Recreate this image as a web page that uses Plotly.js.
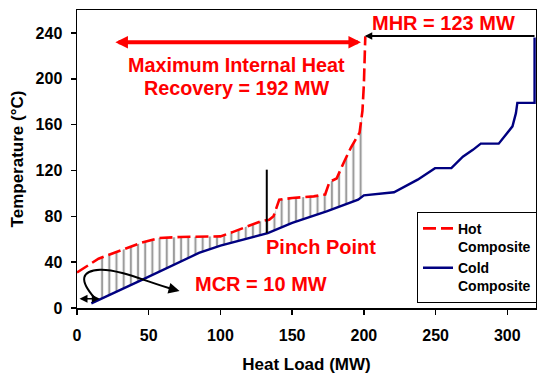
<!DOCTYPE html>
<html><head><meta charset="utf-8">
<script src="https://cdn.plot.ly/plotly-3.0.1.min.js"></script>
<style>html,body{margin:0;padding:0;background:#fff}#chart{width:537px;height:374px}</style>
</head><body><div id="chart"></div>
<script>
// Hot composite curve (heat load MW, temperature °C)
const hotLoad = [0, 15, 45, 57, 72, 100, 108, 120, 128, 134, 137, 141, 150, 165, 173, 176, 181, 186, 191, 197, 199, 200, 201];
const hotTemp = [31, 43, 57, 61, 62, 62.5, 66, 72, 75.6, 77, 80, 94.5, 96, 97.4, 99, 110, 113, 127, 140, 153, 172, 195, 237];
// Cold composite curve
const coldLoad = [10, 15, 46, 85, 100, 133, 150, 174, 196, 200, 221, 237.5, 249.6, 261, 269, 276, 281.5, 294, 299, 303.6, 306, 307, 319, 319];
const coldTemp = [4, 7, 25, 48, 54.5, 65.4, 74.2, 84.3, 94.5, 98.3, 101, 112, 122, 122, 132, 138, 143.4, 143.4, 151, 158.5, 170, 179, 179, 236];
// Recovery (overlap) region limits
const recoveryStart = 15;
const recoveryEnd = 200;
// Axis ticks
const xTicks = [0, 50, 100, 150, 200, 250, 300];
const yTicks = [0, 40, 80, 120, 160, 200, 240];
// Pinch point
const pinchLoad = 132.3;
const pinchTop = 120.7;

const FONT = 'Liberation Sans, Arial, Helvetica, sans-serif';

// Overlap region polygon built from the two composites
const polyX = [], polyY = [];
hotLoad.forEach((x, i) => { if (x >= recoveryStart && x <= recoveryEnd) { polyX.push(x); polyY.push(hotTemp[i]); } });
for (let i = coldLoad.length - 1; i >= 0; i--) {
  const x = coldLoad[i];
  if (x >= recoveryStart && x <= recoveryEnd) { polyX.push(x); polyY.push(coldTemp[i]); }
}
const pinchCold = coldTemp[coldLoad.indexOf(133)];

const traces = [
  {
    x: polyX, y: polyY, type: 'scatter', mode: 'lines', fill: 'toself',
    line: {width: 0, color: 'rgba(0,0,0,0)'},
    fillcolor: 'rgba(0,0,0,0)',
    fillpattern: {shape: '|', size: 7.18, solidity: 0.3, fgcolor: '#9c9c9c', bgcolor: 'rgba(0,0,0,0)', fgopacity: 1},
    showlegend: false, hoverinfo: 'skip'
  },
  {
    x: hotLoad, y: hotTemp, type: 'scatter', mode: 'lines', name: 'Hot<br>Composite',
    line: {color: '#ff0000', width: 2.6, dash: '13px,5px'}
  },
  {
    x: coldLoad, y: coldTemp, type: 'scatter', mode: 'lines', name: 'Cold<br>Composite',
    line: {color: '#000080', width: 2.4}
  }
];

const red = {family: FONT, size: 20, color: '#ff0000', weight: 'bold'};
const annotations = [
  {x: 111.5, y: 212.3, xref: 'x', yref: 'y', text: 'Maximum Internal Heat', showarrow: false, font: Object.assign({}, red, {size: 19.8})},
  {x: 111.6, y: 192, xref: 'x', yref: 'y', text: 'Recovery = 192 MW', showarrow: false, font: Object.assign({}, red, {size: 19.8})},
  {x: 255.4, y: 249, xref: 'x', yref: 'y', text: 'MHR = 123 MW', showarrow: false, font: red},
  {x: 169.8, y: 53.5, xref: 'x', yref: 'y', text: 'Pinch Point', showarrow: false, font: red},
  {x: 128.4, y: 21.2, xref: 'x', yref: 'y', text: 'MCR = 10 MW', showarrow: false, font: red},
  // red double arrow
  {x: 198, y: 231.8, ax: 25.7, ay: 231.8, xref: 'x', yref: 'y', axref: 'x', ayref: 'y', text: '', showarrow: true,
   arrowhead: 2, startarrowhead: 2, arrowside: 'end+start', arrowwidth: 4, arrowsize: 0.63, startarrowsize: 0.63, arrowcolor: '#ff0000', standoff: 0, startstandoff: 0},
  // MHR arrow
  {x: 200.6, y: 237.4, ax: 320, ay: 237.4, xref: 'x', yref: 'y', axref: 'x', ayref: 'y', text: '', showarrow: true,
   arrowhead: 2, arrowwidth: 2, arrowsize: 0.75, arrowcolor: '#000000', standoff: 0},
  // MCR double arrow
  {x: 15.9, y: 8.1, ax: 0.7, ay: 8.1, xref: 'x', yref: 'y', axref: 'x', ayref: 'y', text: '', showarrow: true,
   arrowhead: 2, startarrowhead: 2, arrowside: 'end+start', arrowwidth: 1.6, arrowsize: 1, startarrowsize: 1, arrowcolor: '#000000', standoff: 0, startstandoff: 0},
  // curved arrow head
  {x: 71.5, y: 14.8, ax: 64, ay: 17.3, xref: 'x', yref: 'y', axref: 'x', ayref: 'y', text: '', showarrow: true,
   arrowhead: 2, arrowwidth: 2, arrowsize: 1.1, arrowcolor: '#000000', standoff: 0}
];

const shapes = [
  {type: 'line', xref: 'x', yref: 'y', x0: pinchLoad, x1: pinchLoad, y0: pinchCold, y1: pinchTop, line: {color: '#000', width: 2}},
  {type: 'path', xref: 'x', yref: 'y', path: 'M12.3,8.7 Q-4,32 16,33.4 C30,34 50,22 68,16', line: {color: '#000', width: 2}}
];

const axisFont = {family: FONT, size: 16, color: '#000', weight: 'bold'};
const layout = {
  width: 537, height: 374,
  margin: {l: 77, r: 0, t: 10, b: 66, pad: 0},
  paper_bgcolor: '#fff', plot_bgcolor: '#fff',
  font: {family: FONT, color: '#000', weight: 'bold'},
  showlegend: true,
  xaxis: {
    range: [0, 320], tickmode: 'array', tickvals: xTicks, ticktext: xTicks.map(String),
    showgrid: false, zeroline: false, showline: true, linecolor: '#000', linewidth: 1.5, mirror: true,
    ticks: 'outside', ticklen: 5, tickwidth: 1.5, tickcolor: '#000', tickfont: axisFont, ticklabelstandoff: 7,
    title: {text: 'Heat Load (MW)', font: {family: FONT, size: 17, color: '#000', weight: 'bold'}, standoff: 17}
  },
  yaxis: {
    range: [0, 260], tickmode: 'array', tickvals: yTicks, ticktext: yTicks.map(String),
    showgrid: false, zeroline: false, showline: true, linecolor: '#000', linewidth: 1.5, mirror: true,
    ticks: 'outside', ticklen: 5, tickwidth: 1.5, tickcolor: '#000', tickfont: axisFont, ticklabelstandoff: 5,
    title: {text: 'Temperature (°C)', font: {family: FONT, size: 17, color: '#000', weight: 'bold'}, standoff: 7}
  },
  legend: {
    x: 0.741, y: 0.323, xanchor: 'left', yanchor: 'top', bgcolor: '#fff', bordercolor: '#000', borderwidth: 1,
    valign: 'top', font: {family: FONT, size: 14, color: '#000', weight: 'bold'}, tracegroupgap: 0
  },
  annotations: annotations,
  shapes: shapes
};

Plotly.newPlot('chart', traces, layout, {displayModeBar: false, staticPlot: true});
</script>
</body></html>
